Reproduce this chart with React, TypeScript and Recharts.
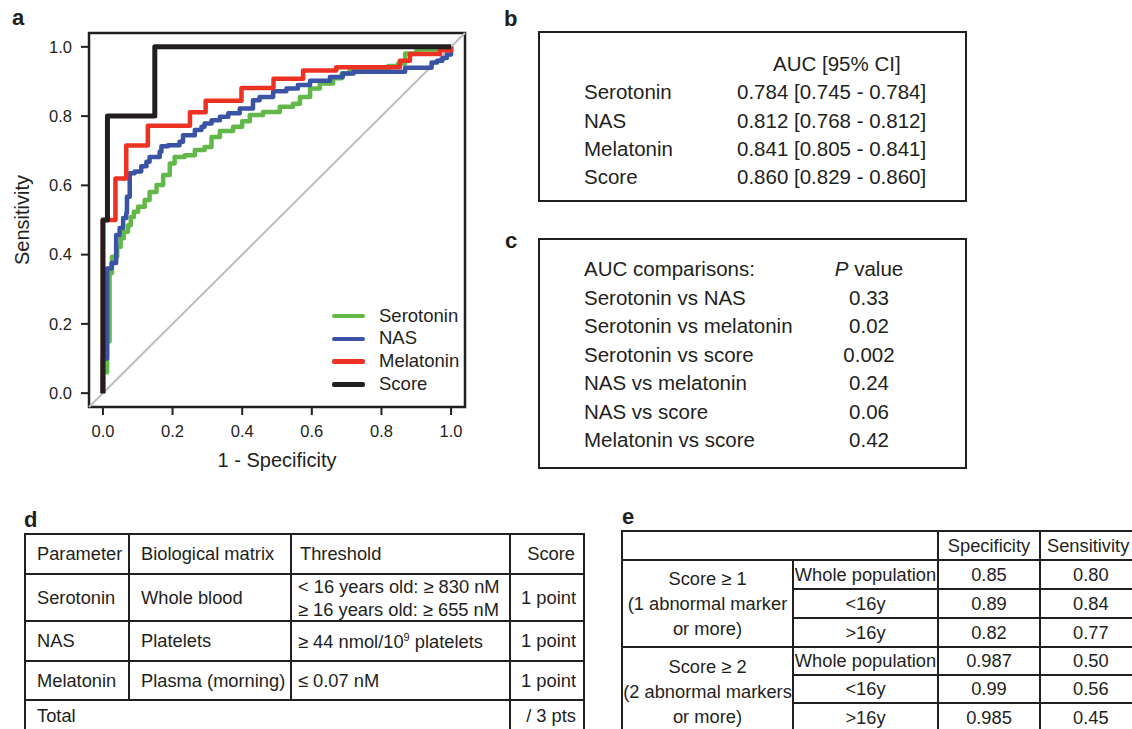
import React from "react";
import { LineChart, Line, XAxis, YAxis, ReferenceLine, ReferenceArea, Label } from "recharts";

const FONT = '"Liberation Sans", Arial, Helvetica, sans-serif';
const INK = "#231f20";

const axisTicks = [0, 0.2, 0.4, 0.6, 0.8, 1.0];

// ROC points: [1 - specificity, sensitivity]
const serotoninRoc: [number, number][] = [
  [0, 0], [0, 0.06], [0.012, 0.15], [0.019, 0.23], [0.019, 0.347], [0.026, 0.394], [0.041, 0.423],
  [0.051, 0.447], [0.06, 0.466], [0.072, 0.485], [0.08, 0.509], [0.089, 0.524], [0.101, 0.538],
  [0.12, 0.558], [0.134, 0.581], [0.154, 0.601], [0.173, 0.63], [0.192, 0.663], [0.206, 0.682],
  [0.235, 0.687], [0.264, 0.702], [0.292, 0.711], [0.312, 0.74], [0.336, 0.757], [0.374, 0.769],
  [0.4, 0.785], [0.422, 0.803], [0.46, 0.812], [0.508, 0.827], [0.546, 0.836], [0.566, 0.855],
  [0.595, 0.88], [0.623, 0.894], [0.661, 0.909], [0.686, 0.923], [0.709, 0.933], [0.758, 0.936],
  [0.82, 0.945], [0.848, 0.952], [0.868, 0.981], [0.901, 0.992], [0.988, 0.995], [1, 1],
];

const nasRoc: [number, number][] = [
  [0, 0], [0, 0.1], [0.012, 0.15], [0.012, 0.36], [0.025, 0.376], [0.038, 0.376], [0.038, 0.457],
  [0.048, 0.477], [0.058, 0.506], [0.067, 0.52], [0.069, 0.567], [0.077, 0.635], [0.091, 0.64],
  [0.11, 0.655], [0.125, 0.668], [0.134, 0.682], [0.163, 0.697], [0.168, 0.713], [0.187, 0.716],
  [0.22, 0.726], [0.23, 0.745], [0.264, 0.76], [0.283, 0.769], [0.292, 0.779], [0.312, 0.788],
  [0.336, 0.798], [0.36, 0.808], [0.393, 0.822], [0.431, 0.846], [0.45, 0.855], [0.489, 0.872],
  [0.527, 0.88], [0.56, 0.89], [0.595, 0.902], [0.652, 0.913], [0.689, 0.923], [0.72, 0.928],
  [0.868, 0.94], [0.944, 0.955], [0.96, 0.96], [0.975, 0.968], [0.988, 0.978], [1, 0.985], [1, 1],
];

const melatoninRoc: [number, number][] = [
  [0, 0], [0, 0.5], [0.036, 0.5], [0.036, 0.62], [0.067, 0.62], [0.067, 0.715], [0.129, 0.715],
  [0.129, 0.772], [0.25, 0.772], [0.25, 0.811], [0.295, 0.811], [0.295, 0.844], [0.398, 0.844],
  [0.398, 0.881], [0.49, 0.881], [0.49, 0.908], [0.575, 0.908], [0.575, 0.932], [0.67, 0.932],
  [0.67, 0.941], [0.853, 0.941], [0.853, 0.96], [0.882, 0.96], [0.882, 0.979], [0.968, 0.979],
  [0.968, 0.99], [1, 0.99], [1, 1],
];

const scoreRoc: [number, number][] = [
  [0, 0], [0, 0.5], [0.013, 0.5], [0.013, 0.8], [0.149, 0.8], [0.149, 1], [1, 1],
];

const rocSeries = [
  { name: "Serotonin", color: "#62b848", points: serotoninRoc, curve: "stepAfter", width: 4.5 },
  { name: "NAS", color: "#3a53a4", points: nasRoc, curve: "stepAfter", width: 4.5 },
  { name: "Melatonin", color: "#ed3224", points: melatoninRoc, curve: "linear", width: 4.5 },
  { name: "Score", color: INK, points: scoreRoc, curve: "linear", width: 5 },
];

// panel b
const aucMarkers = ["Serotonin", "NAS", "Melatonin", "Score"];
const aucValues = ["0.784 [0.745 - 0.784]", "0.812 [0.768 - 0.812]", "0.841 [0.805 - 0.841]", "0.860 [0.829 - 0.860]"];

// panel c
const comparisons = [
  "Serotonin vs NAS",
  "Serotonin vs melatonin",
  "Serotonin vs score",
  "NAS vs melatonin",
  "NAS vs score",
  "Melatonin vs score",
];
const pValues = ["0.33", "0.02", "0.002", "0.24", "0.06", "0.42"];

// panel d
const scoreParams = ["Serotonin", "NAS", "Melatonin"];
const scoreMatrices = ["Whole blood", "Platelets", "Plasma (morning)"];
const scoreThresholds: React.ReactNode[] = [
  <>
    <div>&lt; 16 years old: ≥ 830 nM</div>
    <div>≥ 16 years old: ≥ 655 nM</div>
  </>,
  <>≥ 44 nmol/10<sup style={{ fontSize: "0.6em", verticalAlign: "0.6em", lineHeight: 0 }}>9</sup> platelets</>,
  <>≤ 0.07 nM</>,
];
const scorePoints = ["1 point", "1 point", "1 point"];

// panel e
const cutoffGroups = [
  ["Score ≥ 1", "(1 abnormal marker", "or more)"],
  ["Score ≥ 2", "(2 abnormal markers", "or more)"],
];
const populations = ["Whole population", "<16y", ">16y"];
const specificity = [["0.85", "0.89", "0.82"], ["0.987", "0.99", "0.985"]];
const sensitivity = [["0.80", "0.84", "0.77"], ["0.50", "0.56", "0.45"]];

const toPoints = (pts: [number, number][]) => pts.map(([x, y]) => ({ x, y }));

const YTitle = (props: any) => {
  const vb = props.viewBox;
  const cx = vb.x + 29;
  const cy = vb.y + vb.height / 2;
  return (
    <text x={cx} y={cy} transform={`rotate(-90 ${cx} ${cy})`} textAnchor="middle" fill={INK} fontSize={20} fontFamily={FONT}>
      Sensitivity
    </text>
  );
};

const tickStyle = { fill: INK, fontSize: 16.5, fontFamily: FONT };

const PanelLabel = ({ text, left, top }: { text: string; left: number; top: number }) => (
  <div style={{ position: "absolute", left, top, fontSize: 22, fontWeight: "bold", lineHeight: "22px", color: INK }}>{text}</div>
);

const TextLine = ({ left, center, children, width, align }: any) => (
  <div
    style={{
      position: "absolute",
      left,
      top: center - 13.7,
      width,
      textAlign: align,
      fontSize: 20.5,
      lineHeight: "28px",
      color: INK,
      whiteSpace: "nowrap",
    }}
  >
    {children}
  </div>
);

const cell = (extra: React.CSSProperties = {}): React.CSSProperties => ({
  background: "#fff",
  display: "flex",
  alignItems: "center",
  whiteSpace: "nowrap",
  overflow: "hidden",
  ...extra,
});

const RocChart = () => (
  <div style={{ position: "absolute", left: 0, top: 0 }}>
    <LineChart width={480} height={480} margin={{ top: 33, right: 15, bottom: 11, left: 0 }}>
      <XAxis
        dataKey="x"
        type="number"
        domain={[-0.04, 1.04]}
        ticks={axisTicks}
        allowDataOverflow
        tickFormatter={(v: number) => v.toFixed(1)}
        axisLine={false}
        tickLine={{ stroke: INK, strokeWidth: 2 }}
        tickSize={8}
        tickMargin={10}
        height={62}
        tick={tickStyle}
        interval={0}
      >
        <Label value="1 - Specificity" position="insideBottom" offset={2} style={{ fill: INK, fontSize: 20, fontFamily: FONT }} />
      </XAxis>
      <YAxis
        dataKey="y"
        type="number"
        domain={[-0.04, 1.04]}
        ticks={axisTicks}
        allowDataOverflow
        tickFormatter={(v: number) => v.toFixed(1)}
        axisLine={false}
        tickLine={{ stroke: INK, strokeWidth: 2 }}
        tickSize={8}
        tickMargin={9}
        width={89}
        tick={tickStyle}
        interval={0}
      >
        <Label content={YTitle} />
      </YAxis>
      <ReferenceLine
        segment={[{ x: -0.04, y: -0.04 }, { x: 1.04, y: 1.04 }]}
        stroke="#bdbdbd"
        strokeWidth={2}
        ifOverflow="visible"
      />
      {rocSeries.map((s) => (
        <Line
          key={s.name}
          data={toPoints(s.points)}
          dataKey="y"
          name={s.name}
          type={s.curve as any}
          stroke={s.color}
          strokeWidth={s.width}
          strokeLinejoin="round"
          dot={false}
          activeDot={false}
          isAnimationActive={false}
        />
      ))}
      <ReferenceArea
        x1={-0.04}
        x2={1.04}
        y1={-0.04}
        y2={1.04}
        fill="none"
        fillOpacity={0}
        stroke={INK}
        strokeWidth={2.5}
        ifOverflow="visible"
      />
    </LineChart>
    <div style={{ position: "absolute", left: 332, top: 304.5 }}>
      {rocSeries.map((s) => (
        <div key={s.name} style={{ display: "flex", alignItems: "center", height: 22.9 }}>
          <div style={{ width: 33, height: 4.5, background: s.color, borderRadius: 2 }} />
          <div style={{ marginLeft: 14, fontSize: 18.5, color: INK, lineHeight: "22.9px" }}>{s.name}</div>
        </div>
      ))}
    </div>
  </div>
);

const AucBox = () => (
  <>
    <div style={{ position: "absolute", left: 538, top: 31, width: 429, height: 171, border: `2px solid ${INK}`, boxSizing: "border-box" }} />
    <TextLine left={773} center={64}>AUC [95% CI]</TextLine>
    {aucMarkers.map((m, i) => (
      <React.Fragment key={m}>
        <TextLine left={584} center={92 + i * 28.3}>{m}</TextLine>
        <TextLine left={737} center={92 + i * 28.3}>{aucValues[i]}</TextLine>
      </React.Fragment>
    ))}
  </>
);

const CompareBox = () => (
  <>
    <div style={{ position: "absolute", left: 538, top: 238, width: 429, height: 231, border: `2px solid ${INK}`, boxSizing: "border-box" }} />
    <TextLine left={584} center={269}>AUC comparisons:</TextLine>
    <TextLine left={809} width={120} align="center" center={269}>
      <i>P</i> value
    </TextLine>
    {comparisons.map((c, i) => (
      <React.Fragment key={c}>
        <TextLine left={584} center={297.5 + i * 28.5}>{c}</TextLine>
        <TextLine left={809} width={120} align="center" center={297.5 + i * 28.5}>{pValues[i]}</TextLine>
      </React.Fragment>
    ))}
  </>
);

const gridBox = (xs: number[], ys: number[]): React.CSSProperties => ({
  position: "absolute",
  left: xs[0] - 1,
  top: ys[0] - 1,
  display: "grid",
  gridTemplateColumns: xs.slice(1).map((x, i) => `${x - xs[i] - 2}px`).join(" "),
  gridTemplateRows: ys.slice(1).map((y, i) => `${y - ys[i] - 2}px`).join(" "),
  gap: 2,
  padding: 2,
  background: INK,
  fontSize: 18.3,
  color: INK,
});

const ScoreTable = () => {
  const xs = [25, 129, 291, 510, 584];
  const ys = [534, 574, 621, 661, 700, 742];
  const left = { paddingLeft: 11 };
  return (
    <div style={gridBox(xs, ys)}>
      <div style={cell(left)}>Parameter</div>
      <div style={cell(left)}>Biological matrix</div>
      <div style={cell({ paddingLeft: 8 })}>Threshold</div>
      <div style={cell({ justifyContent: "flex-end", paddingRight: 8 })}>Score</div>
      {scoreParams.map((p, i) => (
        <React.Fragment key={p}>
          <div style={cell(left)}>{p}</div>
          <div style={cell(left)}>{scoreMatrices[i]}</div>
          <div style={cell({ paddingLeft: 6, flexDirection: "column", alignItems: "flex-start", justifyContent: "center", lineHeight: "23px" })}>
            <div>{scoreThresholds[i]}</div>
          </div>
          <div style={cell({ justifyContent: "flex-end", paddingRight: 7 })}>{scorePoints[i]}</div>
        </React.Fragment>
      ))}
      <div style={cell({ ...left, gridColumn: "span 3", alignItems: "flex-start", paddingTop: 4 })}>Total</div>
      <div style={cell({ justifyContent: "flex-end", paddingRight: 7, alignItems: "flex-start", paddingTop: 4 })}>/ 3 pts</div>
    </div>
  );
};

const CutoffTable = () => {
  const xs = [622, 793, 938, 1040, 1160];
  const ys = [531, 560, 589, 618, 647, 675, 703, 735];
  const center = { justifyContent: "center" };
  return (
    <div style={gridBox(xs, ys)}>
      <div style={cell({ gridColumn: "span 2" })} />
      <div style={cell(center)}>Specificity</div>
      <div style={cell({ paddingLeft: 6 })}>Sensitivity</div>
      {cutoffGroups.map((g, gi) => (
        <React.Fragment key={g[0]}>
          <div
            style={cell({
              gridRow: `${2 + gi * 3} / span 3`,
              gridColumn: "1",
              flexDirection: "column",
              justifyContent: gi === 0 ? "center" : "flex-start",
              paddingTop: gi === 0 ? 0 : 6,
              lineHeight: "25px",
              textAlign: "center",
            })}
          >
            {g.map((t) => (
              <div key={t}>{t}</div>
            ))}
          </div>
          {populations.map((p, pi) => {
            const last = gi === 1 && pi === 2;
            const rowStyle = last ? { alignItems: "flex-start", paddingTop: 3 } : {};
            return (
              <React.Fragment key={p}>
                <div style={cell({ ...center, ...rowStyle, gridColumn: "2", gridRow: `${2 + gi * 3 + pi}` })}>{p}</div>
                <div style={cell({ ...center, ...rowStyle, gridColumn: "3", gridRow: `${2 + gi * 3 + pi}` })}>{specificity[gi][pi]}</div>
                <div style={cell({ ...rowStyle, gridColumn: "4", gridRow: `${2 + gi * 3 + pi}`, paddingLeft: 32 })}>{sensitivity[gi][pi]}</div>
              </React.Fragment>
            );
          })}
        </React.Fragment>
      ))}
    </div>
  );
};

export default function App() {
  return (
    <div
      style={{
        position: "absolute",
        left: 0,
        top: 0,
        width: 1132,
        height: 729,
        overflow: "hidden",
        background: "#fff",
        fontFamily: FONT,
        color: INK,
      }}
    >
      <PanelLabel text="a" left={12} top={7} />
      <PanelLabel text="b" left={504} top={8} />
      <PanelLabel text="c" left={505} top={230} />
      <PanelLabel text="d" left={24} top={509} />
      <PanelLabel text="e" left={622} top={506} />
      <RocChart />
      <AucBox />
      <CompareBox />
      <ScoreTable />
      <CutoffTable />
    </div>
  );
}
